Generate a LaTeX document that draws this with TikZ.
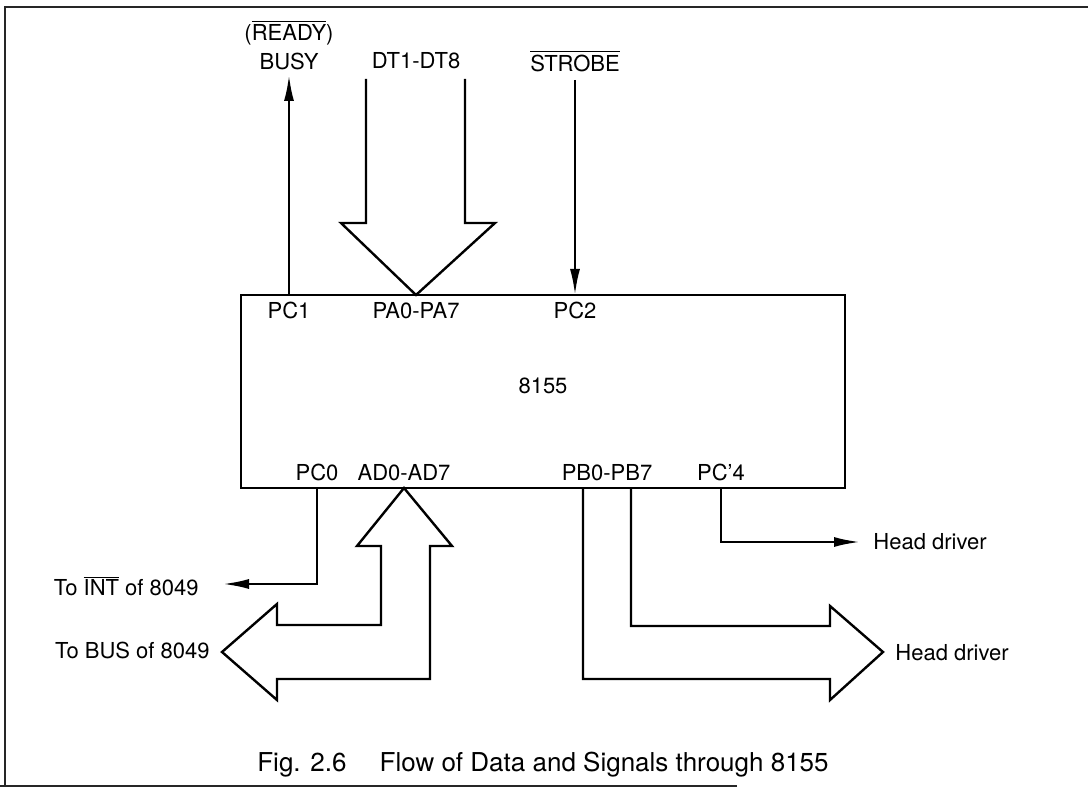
\documentclass[tikz,border=0pt]{standalone}
\usepackage{fontspec}
\setmainfont{TeX Gyre Heros}
\usetikzlibrary{positioning, arrows.meta}
\newcommand{\ovl}[1]{$\overline{\mbox{#1}}$} % bar over active-low signal names
\tikzset{
    x=0.5pt, y=-0.5pt, % one unit is one pixel of the figure, y grows downwards
    frame/.style={line width=0.9pt, black!85}, % edges of the scanned page
    chip/.style={draw, line width=1.2pt, minimum width=302pt, minimum height=96.5pt},
    sig/.style={line width=1.2pt, -{Latex[length=13pt,width=5pt]}}, % single signal lines
    bus/.style={line width=1.2pt, line join=miter}, % hollow bus arrows
    lbl/.style={inner sep=3.5pt, font=\fontsize{11}{13}\selectfont},
    pin/.style={lbl},
}
\begin{document}
\begin{tikzpicture}
    \useasboundingbox (0,0) rectangle (1088,791);
    \draw[frame] (737,786) -- (0,786);
    \draw[frame] (5,786) -- (5,7) -- (1088,7);

    \node[chip] (ic) at (543,391.5) {};
    \node[lbl] (icname) at (543,386) {8155};

    % pins on the chip
    \coordinate (pcone) at (289,295);
    \coordinate (patip) at (416,295);
    \coordinate (pctwo) at (575,295);
    \coordinate (pczero) at (317,488);
    \coordinate (adtip) at (404,488);
    \coordinate (pbmid) at (607,488);
    \coordinate (pcfour) at (721,488);

    \node[pin, below=0pt of pcone] {PC1};
    \node[pin, below=0pt of patip] {PA0-PA7};
    \node[pin, below=0pt of pctwo] {PC2};
    \node[pin, above=0pt of pczero] {PC0};
    \node[pin, above=0pt of adtip] {AD0-AD7};
    \node[pin, above=0pt of pbmid] {PB0-PB7};
    \node[pin, above=0pt of pcfour] {PC'4};

    % outside labels
    \node[lbl] (ready) at (289,33) {(\ovl{READY})};
    \node[lbl] (busy) at (289,61) {BUSY};
    \node[lbl] (dt) at (416,61) {DT1-DT8};
    \node[lbl] (strobe) at (575,61) {\ovl{STROBE}};
    \node[lbl, anchor=east] (toint) at (206,586) {To \ovl{INT} of 8049};
    \node[lbl, anchor=east] (tobus) at (217,650) {To BUS of 8049};
    \node[lbl, anchor=west] (headone) at (866,542) {Head driver};
    \node[lbl, anchor=west] (headtwo) at (888,653) {Head driver};

    % single lines
    \coordinate (busytip) at (289,75);
    \coordinate (strobetop) at (575,80);
    \coordinate (intend) at (223,584);
    \coordinate (headend) at (860,542);
    \draw[sig] (pcone) -- (busytip);
    \draw[sig] (strobetop) -- (pctwo);
    \draw[sig] (pczero) |- (intend);
    \draw[sig] (pcfour) |- (headend);

    % bus arrows
    \draw[bus] (366,79) -- (366,223) -- (341,223) -- (patip) -- (495,223) -- (465,223) -- (465,79);
    \draw[bus] (adtip) -- (357,546) -- (381,546) -- (381,625) -- (277,625) -- (277,604)
        -- (222,652) -- (277,700) -- (277,679) -- (430,679) -- (430,546) -- (452,546) -- cycle;
    \draw[bus] (583,488) -- (583,679) -- (830,679) -- (830,700) -- (883,652) -- (830,606)
        -- (830,626) -- (631,626) -- (631,488);

    \node[font=\fontsize{13}{15}\selectfont] (caption) at (543,765)
        {Fig. 2.6\quad\ Flow of Data and Signals through 8155};
\end{tikzpicture}
\end{document}
